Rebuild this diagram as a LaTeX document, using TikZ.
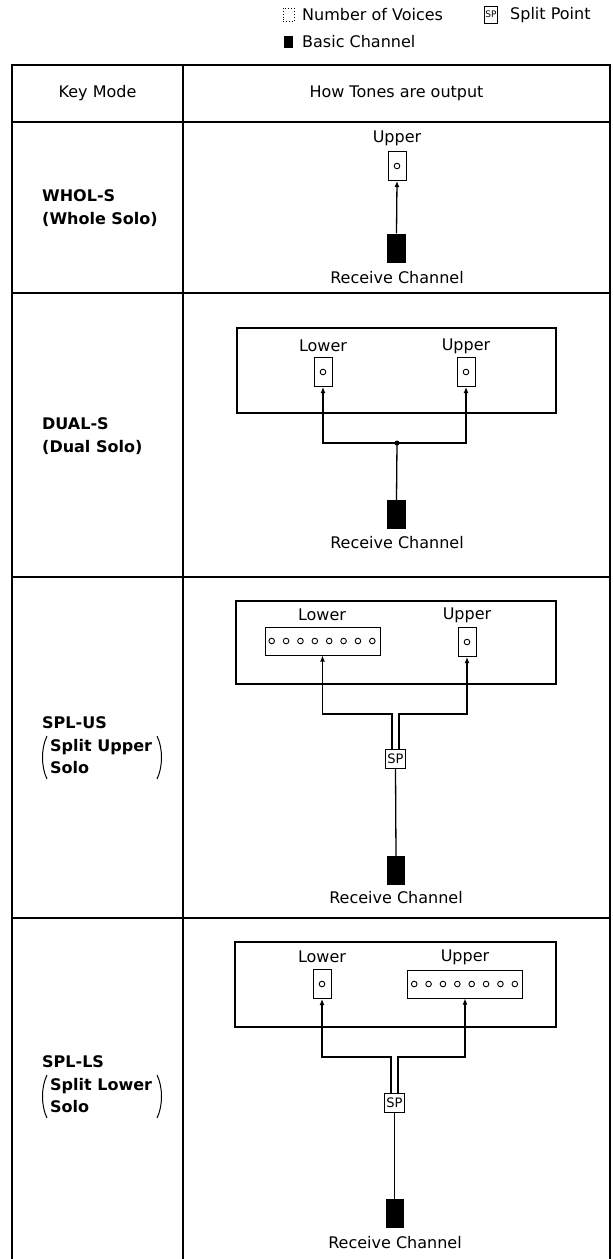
\documentclass[tikz,border=0pt]{standalone}
\usepackage{fontspec}
\setmainfont{DejaVu Sans}
\usetikzlibrary{arrows.meta,calc}
\begin{document}
\begin{tikzpicture}[x=1pt,y=-1pt,
  font=\fontsize{16}{19}\selectfont,
  txt/.style={inner sep=0pt},
  mode/.style={inner sep=0pt,anchor=west,font=\fontsize{16}{19}\selectfont\bfseries},
  grid/.style={line width=2pt},
  bigbox/.style={draw,line width=1.5pt,inner sep=0pt},
  vbox/.style={draw,line width=1pt,minimum width=18pt,minimum height=29pt,inner sep=0pt},
  strip/.style={draw,line width=1pt,minimum width=115pt,minimum height=28pt,inner sep=0pt},
  rcbox/.style={fill=black,minimum width=19pt,minimum height=29pt,inner sep=0pt},
  spbox/.style={draw,line width=1pt,minimum width=20pt,minimum height=19pt,inner sep=0pt,font=\fontsize{13}{14}\selectfont},
  conn/.style={line width=1.3pt},
  arr/.style={conn,-{Latex[length=6pt,width=5pt]}},
  paren/.style={line width=1pt},
]
\useasboundingbox[fill=white] (0,0) rectangle (613,1259);

% legend
\node[draw,dotted,line width=0.9pt,minimum width=11pt,minimum height=13pt,inner sep=0pt] (lgv) at (288.5,14.5) {};
\node[txt,anchor=west] (lgvt) at (302,15) {Number of Voices};
\node[draw,line width=0.9pt,minimum width=13pt,minimum height=17pt,inner sep=0pt,font=\fontsize{9}{10}\selectfont] (lgs) at (491,14.5) {SP};
\node[txt,anchor=west] (lgst) at (510,15) {Split Point};
\node[fill=black,minimum width=9pt,minimum height=12pt,inner sep=0pt] (lgb) at (288.5,42) {};
\node[txt,anchor=west] (lgbt) at (302,42) {Basic Channel};

% table
\draw[grid] (12,65) -- (610,65);
\draw[grid] (12,122) -- (610,122);
\draw[grid] (12,293) -- (610,293);
\draw[grid] (12,577) -- (610,577);
\draw[grid] (12,918) -- (610,918);
\draw[grid] (12,64) -- (12,1259);
\draw[grid] (183,64) -- (183,1259);
\draw[grid] (610,64) -- (610,1259);
\node[txt] (h1) at (97.5,93.5) {Key Mode};
\node[txt] (h2) at (396.5,93.5) {How Tones are output};

% row 1 WHOL-S
\node[mode] (m1a) at (42,196) {WHOL-S};
\node[mode] (m1b) at (42,219) {(Whole Solo)};
\node[txt] (u1) at (397,138) {Upper};
\node[vbox] (v1) at (397,166) {};
\draw[line width=0.9pt] (v1.center) circle (2.8pt);
\node[rcbox] (rc1) at (396.5,248) {};
\node[txt] (t1) at (397,278) {Receive Channel};
\draw[arr] (rc1.north) -- (v1.south);

% row 2 DUAL-S
\node[mode] (m2a) at (42,424) {DUAL-S};
\node[mode] (m2b) at (42,447) {(Dual Solo)};
\node[bigbox,minimum width=319pt,minimum height=85pt] (b2) at (396.5,370.5) {};
\node[txt] (l2) at (323,346) {Lower};
\node[txt] (u2) at (466,346) {Upper};
\node[vbox] (vL2) at (323,372) {};
\node[vbox] (vU2) at (466,372) {};
\draw[line width=0.9pt] (vL2.center) circle (2.8pt);
\draw[line width=0.9pt] (vU2.center) circle (2.8pt);
\coordinate (j2) at (397,443);
\node[rcbox] (rc2) at (396.5,514.5) {};
\node[txt] (t2) at (397,543) {Receive Channel};
\draw[conn] (rc2.north) -- (j2);
\draw[arr] (j2) -| (vL2.south);
\draw[arr] (j2) -| (vU2.south);
\fill (j2) circle (2.5pt);

% row 3 SPL-US
\node[mode] (m3a) at (42,723) {SPL-US};
\node[mode] (m3b) at (50,747) {Split Upper};
\node[mode] (m3c) at (50,768) {Solo};
\draw[paren] (47,736) .. controls (41,748) and (41,767) .. (47,779);
\draw[paren] (157,736) .. controls (163,748) and (163,767) .. (157,779);
\node[bigbox,minimum width=320pt,minimum height=83pt] (b3) at (396,642.5) {};
\node[txt] (l3) at (322,615) {Lower};
\node[txt] (u3) at (467,615) {Upper};
\node[strip] (s3) at (322.5,641) {};
\foreach \i in {0,...,7} \draw[line width=0.9pt] ($(s3.west)+({7.2+14.375*\i},0)$) circle (2.8pt);
\node[vbox] (vU3) at (467,642) {};
\draw[line width=0.9pt] (vU3.center) circle (2.8pt);
\node[spbox] (sp3) at (395.5,758.5) {SP};
\coordinate (d3L) at ($(sp3.north)+(-3.5,0)$);
\coordinate (d3R) at ($(sp3.north)+(3.5,0)$);
\coordinate (j3L) at (322.5,714);
\coordinate (j3R) at (467,714);
\draw[arr] (d3L) |- (j3L) -- (s3.south);
\draw[arr] (d3R) |- (j3R) -- (vU3.south);
\node[rcbox,minimum width=18pt] (rc3) at (396,870.5) {};
\node[txt] (t3) at (396,898) {Receive Channel};
\draw[conn] (rc3.north) -- (sp3.south);

% row 4 SPL-LS
\node[mode] (m4a) at (42,1062) {SPL-LS};
\node[mode] (m4b) at (50,1086) {Split Lower};
\node[mode] (m4c) at (50,1107) {Solo};
\draw[paren] (47,1075) .. controls (41,1087) and (41,1106) .. (47,1118);
\draw[paren] (157,1075) .. controls (163,1087) and (163,1106) .. (157,1118);
\node[bigbox,minimum width=321pt,minimum height=85pt] (b4) at (395.5,984.5) {};
\node[txt] (l4) at (322,957) {Lower};
\node[txt] (u4) at (465,957) {Upper};
\node[vbox] (vL4) at (322,984) {};
\draw[line width=0.9pt] (vL4.center) circle (2.8pt);
\node[strip] (s4) at (465,984) {};
\foreach \i in {0,...,7} \draw[line width=0.9pt] ($(s4.west)+({7.2+14.375*\i},0)$) circle (2.8pt);
\node[spbox] (sp4) at (394.5,1102.5) {SP};
\coordinate (d4L) at ($(sp4.north)+(-3.5,0)$);
\coordinate (d4R) at ($(sp4.north)+(3.5,0)$);
\coordinate (j4L) at (322,1057);
\coordinate (j4R) at (465,1057);
\draw[arr] (d4L) |- (j4L) -- (vL4.south);
\draw[arr] (d4R) |- (j4R) -- (s4.south);
\node[rcbox,minimum width=18pt] (rc4) at (394.5,1213.5) {};
\node[txt] (t4) at (395,1243) {Receive Channel};
\draw[conn] (rc4.north) -- (sp4.south);
\end{tikzpicture}
\end{document}
